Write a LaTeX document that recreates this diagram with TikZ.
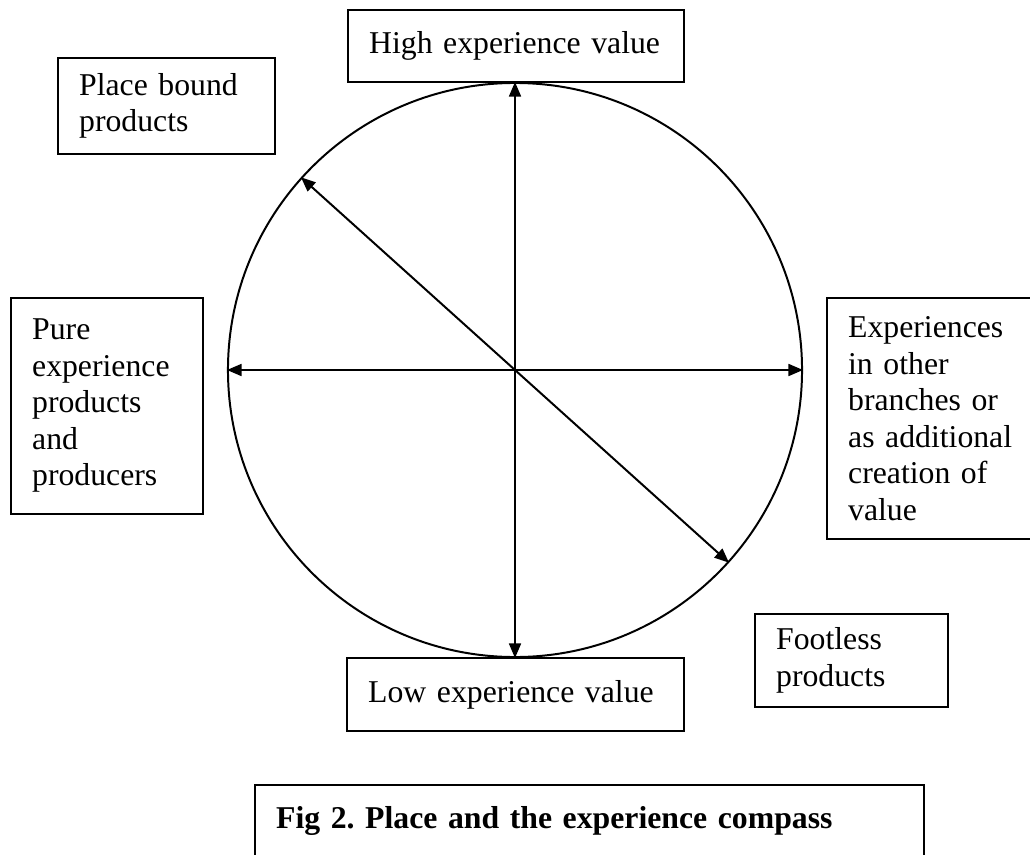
\documentclass[tikz,border=0pt]{standalone}
\usepackage{fontspec}
\setmainfont{Liberation Serif}
\usetikzlibrary{arrows.meta, positioning}
\frenchspacing

\begin{document}
\begin{tikzpicture}[
    x=0.378pt, y=-0.378pt,
    box/.style={rectangle, draw, line width=0.75pt, anchor=north west, align=left, inner xsep=8pt, inner ysep=0pt, font=\fontsize{12}{13.8}\selectfont},
    arrow/.style={line width=0.75pt, {Triangle[length=5.5pt,width=4.5pt]}-{Triangle[length=5.5pt,width=4.5pt]}}
]
\useasboundingbox (0,0) rectangle (1030,854);

% Compass
\node (compass) [circle, draw, line width=0.75pt, inner sep=0pt, minimum size=217pt] at (515,370) {};

% Poles
\node (high) [box, text width=111pt, minimum height=27.2pt] at (347,9) {High experience value};
\node (low) [box, text width=111.4pt, minimum height=27.6pt] at (346,657) {Low experience value};
\node (pure) [box, text width=56.6pt, minimum height=81.6pt] at (10,297) {Pure\\experience\\products\\and\\producers};
\node (other) [box, text width=64.9pt, minimum height=91.1pt] at (826,297) {Experiences\\in other\\branches or\\as additional\\creation of\\value};

% Diagonal
\node (placebound) [box, text width=66pt, minimum height=36.3pt] at (57,57) {Place bound\\products};
\node (footless) [box, text width=57pt, minimum height=35.2pt] at (754,613) {Footless\\products};

% Arrows
\foreach \from/\to in {north/south, west/east, 138/-42} {
    \draw [arrow] (compass.\from) -- (compass.\to);
}

\node (caption) [box, text width=236.9pt, minimum height=27.2pt, font=\fontsize{12}{13.8}\selectfont\bfseries] at (254,784) {Fig 2. Place and the experience compass};

\end{tikzpicture}
\end{document}
